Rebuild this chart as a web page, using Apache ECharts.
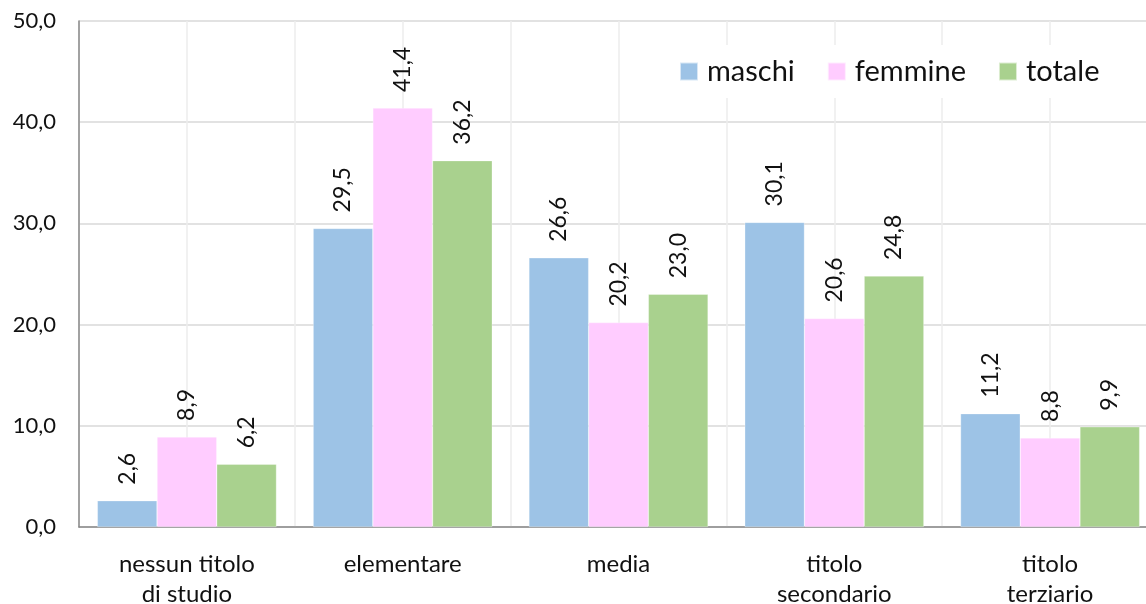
<!DOCTYPE html>
<html>
<head>
<meta charset="utf-8">
<script src="https://cdn.jsdelivr.net/npm/echarts@6/dist/echarts.min.js"></script>
<style>
  html, body { margin: 0; padding: 0; background: #fff; }
  #chart { width: 1146px; height: 604px; }
</style>
</head>
<body>
<div id="chart"></div>
<script>
// Data
const categories = ['nessun titolo\ndi studio', 'elementare', 'media', 'titolo\nsecondario', 'titolo\nterziario'];
const maschi = [2.6, 29.5, 26.6, 30.1, 11.2];
const femmine = [8.9, 41.4, 20.2, 20.6, 8.8];
const totale = [6.2, 36.2, 23.0, 24.8, 9.9];

const FONT = 'Lato';
const fmt = (v) => v.toFixed(1).replace('.', ',');

const chart = echarts.init(document.getElementById('chart'));

const barLabel = {
  show: true,
  position: 'top',
  rotate: 90,
  align: 'left',
  verticalAlign: 'middle',
  distance: 16,
  fontFamily: FONT,
  fontSize: 23,
  color: '#111',
  formatter: (p) => fmt(p.value),
};

const makeSeries = (name, data, color) => ({
  name,
  type: 'bar',
  data,
  xAxisIndex: 0,
  barGap: 0,
  barCategoryGap: '17%',
  itemStyle: { color, borderColor: 'rgba(255,255,255,0.6)', borderWidth: 0.5 },
  label: barLabel,
  z: 3,
});

chart.setOption({
  animation: false,
  textStyle: { fontFamily: FONT },
  // plot area runs slightly past the right edge of the picture, as in the reference
  grid: { left: 79, right: -12, top: 21, bottom: 77, containLabel: false, outerBoundsMode: 'none' },
  legend: {
    data: ['maschi', 'femmine', 'totale'],
    left: 658,
    top: 45,
    padding: [12, 20, 12, 21],
    backgroundColor: '#fff',
    itemWidth: 18,
    itemHeight: 18,
    itemGap: 32,
    icon: 'rect',
    textStyle: { fontFamily: FONT, fontSize: 29, color: '#111', padding: [0, 0, 0, 4] },
    z: 10,
  },
  xAxis: [
    {
      type: 'category',
      data: categories,
      axisLine: { lineStyle: { color: '#888', width: 1.5 } },
      axisTick: { show: false },
      splitLine: { show: false },
      axisLabel: {
        fontFamily: FONT,
        fontSize: 24,
        color: '#111',
        margin: 22,
        lineHeight: 30,
      },
    },
    {
      // hidden helper axis to draw the half-category vertical gridlines
      type: 'value',
      min: 0,
      max: 10,
      interval: 1,
      position: 'bottom',
      axisLine: { show: false },
      axisTick: { show: false },
      axisLabel: { show: false },
      splitLine: { show: true, lineStyle: { color: '#ececec', width: 1.5 } },
    },
  ],
  yAxis: {
    type: 'value',
    min: 0,
    max: 50,
    interval: 10,
    axisLine: { show: true, lineStyle: { color: '#888', width: 1.5 } },
    axisTick: { show: false },
    splitLine: { lineStyle: { color: '#d9d9d9', width: 1.5 } },
    axisLabel: {
      fontFamily: FONT,
      fontSize: 22,
      color: '#111',
      margin: 23,
      formatter: (v) => fmt(v),
    },
  },
  series: [
    makeSeries('maschi', maschi, '#9dc3e6'),
    makeSeries('femmine', femmine, '#ffccff'),
    makeSeries('totale', totale, '#a9d18e'),
  ],
});
</script>
</body>
</html>
